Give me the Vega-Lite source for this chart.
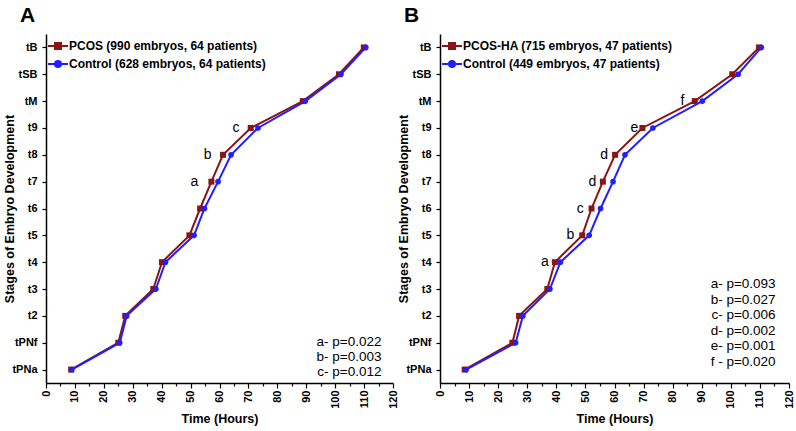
{
  "$schema": "https://vega.github.io/schema/vega-lite/v6.json",
  "padding": {"left": 3, "top": 5, "right": 5, "bottom": 5},
  "config": {
    "font": "Liberation Sans",
    "view": {"stroke": null},
    "axis": {"grid": false, "domainColor": "#000", "domainWidth": 1.5, "tickColor": "#000", "tickWidth": 1.2, "labelColor": "#000", "titleColor": "#000", "labelFontWeight": "bold", "titleFontWeight": "bold", "labelFontSize": 11, "titleFontSize": 12.5},
    "title": {"fontSize": 21, "fontWeight": "bold", "anchor": "start", "frame": "group", "color": "#000", "offset": 8}
  },
  "datasets": {
    "main": [
      {"panel": "A", "group": "PCOS (990 embryos, 64 patients)", "stage": "tPNa", "time": 8.7},
      {"panel": "A", "group": "PCOS (990 embryos, 64 patients)", "stage": "tPNf", "time": 25.0},
      {"panel": "A", "group": "PCOS (990 embryos, 64 patients)", "stage": "t2", "time": 27.4},
      {"panel": "A", "group": "PCOS (990 embryos, 64 patients)", "stage": "t3", "time": 37.1},
      {"panel": "A", "group": "PCOS (990 embryos, 64 patients)", "stage": "t4", "time": 40.1},
      {"panel": "A", "group": "PCOS (990 embryos, 64 patients)", "stage": "t5", "time": 49.6},
      {"panel": "A", "group": "PCOS (990 embryos, 64 patients)", "stage": "t6", "time": 53.3},
      {"panel": "A", "group": "PCOS (990 embryos, 64 patients)", "stage": "t7", "time": 57.2},
      {"panel": "A", "group": "PCOS (990 embryos, 64 patients)", "stage": "t8", "time": 61.2},
      {"panel": "A", "group": "PCOS (990 embryos, 64 patients)", "stage": "t9", "time": 70.8},
      {"panel": "A", "group": "PCOS (990 embryos, 64 patients)", "stage": "tM", "time": 88.8},
      {"panel": "A", "group": "PCOS (990 embryos, 64 patients)", "stage": "tSB", "time": 101.3},
      {"panel": "A", "group": "PCOS (990 embryos, 64 patients)", "stage": "tB", "time": 109.9},
      {"panel": "A", "group": "Control (628 embryos,  64 patients)", "stage": "tPNa", "time": 8.9},
      {"panel": "A", "group": "Control (628 embryos,  64 patients)", "stage": "tPNf", "time": 25.5},
      {"panel": "A", "group": "Control (628 embryos,  64 patients)", "stage": "t2", "time": 27.9},
      {"panel": "A", "group": "Control (628 embryos,  64 patients)", "stage": "t3", "time": 38.0},
      {"panel": "A", "group": "Control (628 embryos,  64 patients)", "stage": "t4", "time": 41.3},
      {"panel": "A", "group": "Control (628 embryos,  64 patients)", "stage": "t5", "time": 51.2},
      {"panel": "A", "group": "Control (628 embryos,  64 patients)", "stage": "t6", "time": 54.8},
      {"panel": "A", "group": "Control (628 embryos,  64 patients)", "stage": "t7", "time": 59.5},
      {"panel": "A", "group": "Control (628 embryos,  64 patients)", "stage": "t8", "time": 64.0},
      {"panel": "A", "group": "Control (628 embryos,  64 patients)", "stage": "t9", "time": 73.3},
      {"panel": "A", "group": "Control (628 embryos,  64 patients)", "stage": "tM", "time": 89.7},
      {"panel": "A", "group": "Control (628 embryos,  64 patients)", "stage": "tSB", "time": 102.0},
      {"panel": "A", "group": "Control (628 embryos,  64 patients)", "stage": "tB", "time": 110.6},
      {"panel": "B", "group": "PCOS-HA (715 embryos, 47 patients)", "stage": "tPNa", "time": 8.5},
      {"panel": "B", "group": "PCOS-HA (715 embryos, 47 patients)", "stage": "tPNf", "time": 24.9},
      {"panel": "B", "group": "PCOS-HA (715 embryos, 47 patients)", "stage": "t2", "time": 27.2},
      {"panel": "B", "group": "PCOS-HA (715 embryos, 47 patients)", "stage": "t3", "time": 36.9},
      {"panel": "B", "group": "PCOS-HA (715 embryos, 47 patients)", "stage": "t4", "time": 39.5},
      {"panel": "B", "group": "PCOS-HA (715 embryos, 47 patients)", "stage": "t5", "time": 48.9},
      {"panel": "B", "group": "PCOS-HA (715 embryos, 47 patients)", "stage": "t6", "time": 52.1},
      {"panel": "B", "group": "PCOS-HA (715 embryos, 47 patients)", "stage": "t7", "time": 56.0},
      {"panel": "B", "group": "PCOS-HA (715 embryos, 47 patients)", "stage": "t8", "time": 60.2},
      {"panel": "B", "group": "PCOS-HA (715 embryos, 47 patients)", "stage": "t9", "time": 69.6},
      {"panel": "B", "group": "PCOS-HA (715 embryos, 47 patients)", "stage": "tM", "time": 87.6},
      {"panel": "B", "group": "PCOS-HA (715 embryos, 47 patients)", "stage": "tSB", "time": 100.5},
      {"panel": "B", "group": "PCOS-HA (715 embryos, 47 patients)", "stage": "tB", "time": 109.7},
      {"panel": "B", "group": "Control (449 embryos, 47 patients)", "stage": "tPNa", "time": 9.0},
      {"panel": "B", "group": "Control (449 embryos, 47 patients)", "stage": "tPNf", "time": 26.0},
      {"panel": "B", "group": "Control (449 embryos, 47 patients)", "stage": "t2", "time": 28.5},
      {"panel": "B", "group": "Control (449 embryos, 47 patients)", "stage": "t3", "time": 37.8},
      {"panel": "B", "group": "Control (449 embryos, 47 patients)", "stage": "t4", "time": 41.4},
      {"panel": "B", "group": "Control (449 embryos, 47 patients)", "stage": "t5", "time": 51.3},
      {"panel": "B", "group": "Control (449 embryos, 47 patients)", "stage": "t6", "time": 55.2},
      {"panel": "B", "group": "Control (449 embryos, 47 patients)", "stage": "t7", "time": 59.5},
      {"panel": "B", "group": "Control (449 embryos, 47 patients)", "stage": "t8", "time": 63.6},
      {"panel": "B", "group": "Control (449 embryos, 47 patients)", "stage": "t9", "time": 73.2},
      {"panel": "B", "group": "Control (449 embryos, 47 patients)", "stage": "tM", "time": 90.2},
      {"panel": "B", "group": "Control (449 embryos, 47 patients)", "stage": "tSB", "time": 102.5},
      {"panel": "B", "group": "Control (449 embryos, 47 patients)", "stage": "tB", "time": 110.5}
    ],
    "letters": [
      {"panel": "A", "stage": "t7", "time": 51.3, "txt": "a"},
      {"panel": "A", "stage": "t8", "time": 55.9, "txt": "b"},
      {"panel": "A", "stage": "t9", "time": 65.7, "txt": "c"},
      {"panel": "B", "stage": "t4", "time": 36.1, "txt": "a"},
      {"panel": "B", "stage": "t5", "time": 44.8, "txt": "b"},
      {"panel": "B", "stage": "t6", "time": 48.2, "txt": "c"},
      {"panel": "B", "stage": "t7", "time": 52.4, "txt": "d"},
      {"panel": "B", "stage": "t8", "time": 56.4, "txt": "d"},
      {"panel": "B", "stage": "t9", "time": 66.8, "txt": "e"},
      {"panel": "B", "stage": "tM", "time": 83.4, "txt": "f"}
    ],
    "pvals": [
      {"panel": "A", "stage": "tPNf", "time": 116, "txt": "a- p=0.022\nb- p=0.003\nc- p=0.012"},
      {"panel": "B", "stage": "t3", "time": 115.4, "txt": "a- p=0.093\nb- p=0.027\nc- p=0.006\nd- p=0.002\ne- p=0.001\nf - p=0.020"}
    ]
  },
  "spacing": -1,
  "resolve": {"scale": {"color": "independent"}, "legend": {"color": "independent"}},
  "hconcat": [
    {
      "title": {"text": "A", "dx": -26},
      "width": 347,
      "height": 349,
      "encoding": {
        "x": {"field": "time", "type": "quantitative", "scale": {"domain": [0, 120], "nice": false},
          "axis": {"title": "Time (Hours)", "values": [0,5,10,15,20,25,30,35,40,45,50,55,60,65,70,75,80,85,90,95,100,105,110,115,120], "labelExpr": "datum.value % 10 === 0 ? datum.label : ''", "tickSize": {"condition": {"test": "datum.value % 10 === 0", "value": 5}, "value": 3}, "labelAngle": -90, "labelFlush": false, "labelOverlap": false, "titlePadding": 4}},
        "y": {"field": "stage", "type": "ordinal", "sort": ["tB","tSB","tM","t9","t8","t7","t6","t5","t4","t3","t2","tPNf","tPNa"],
          "axis": {"title": "Stages of Embryo Development", "tickSize": 4, "labelPadding": 5, "titlePadding": -4.5}}
      },
      "layer": [
        {
          "data": {"name": "main"},
          "transform": [{"filter": "datum.panel === 'A'"}],
          "mark": {"type": "line", "strokeWidth": 2},
          "encoding": {
            "color": {"field": "group", "type": "nominal",
              "scale": {"domain": ["PCOS (990 embryos, 64 patients)", "Control (628 embryos,  64 patients)"], "range": ["#8B1414", "#1F1FFF"]},
              "legend": {"title": null, "orient": "top-left", "offset": 1, "padding": 0, "labelFontSize": 12, "labelFontWeight": "bold", "labelColor": "#000", "labelLimit": 0, "symbolSize": 400, "rowPadding": -4, "labelOffset": 0,
                "encode": {"symbols": {"update": {
                  "shape": {"signal": "indexof(datum.value,'Control') >= 0 ? 'M-1,0H1M-0.3,0A0.3,0.3 0 1,0 0.3,0A0.3,0.3 0 1,0 -0.3,0Z' : 'M-1,0H1M-0.3,-0.3H0.3V0.3H-0.3Z'"},
                  "fill": {"signal": "indexof(datum.value,'Control') >= 0 ? '#1F1FFF' : '#8B1414'"},
                  "stroke": {"signal": "indexof(datum.value,'Control') >= 0 ? '#1F1FFF' : '#8B1414'"},
                  "strokeWidth": {"value": 2}, "opacity": {"value": 1}, "fillOpacity": {"value": 1}}}}}}
          }
        },
        {
          "data": {"name": "main"},
          "transform": [{"filter": "datum.panel === 'A' && indexof(datum.group, 'Control') < 0"}],
          "mark": {"type": "point", "filled": true, "opacity": 1, "shape": "square", "size": 36},
          "encoding": {"color": {"field": "group", "type": "nominal", "legend": null}}
        },
        {
          "data": {"name": "main"},
          "transform": [{"filter": "datum.panel === 'A' && indexof(datum.group, 'Control') >= 0"}],
          "mark": {"type": "point", "filled": true, "opacity": 1, "shape": "circle", "size": 32},
          "encoding": {"color": {"field": "group", "type": "nominal", "legend": null}}
        },
        {
          "data": {"name": "letters"},
          "transform": [{"filter": "datum.panel === 'A'"}],
          "mark": {"type": "text", "fontSize": 14, "color": "#000", "baseline": "middle", "align": "center"},
          "encoding": {"text": {"field": "txt"}}
        },
        {
          "data": {"name": "pvals"},
          "transform": [{"filter": "datum.panel === 'A'"}],
          "mark": {"type": "text", "fontSize": 13.5, "color": "#000", "baseline": "middle", "align": "right", "lineBreak": "\n", "lineHeight": 15, "dy": -1},
          "encoding": {"text": {"field": "txt"}}
        }
      ]
    },
    {
      "title": {"text": "B", "dx": -36},
      "width": 349,
      "height": 349,
      "encoding": {
        "x": {"field": "time", "type": "quantitative", "scale": {"domain": [0, 120], "nice": false},
          "axis": {"title": "Time (Hours)", "values": [0,5,10,15,20,25,30,35,40,45,50,55,60,65,70,75,80,85,90,95,100,105,110,115,120], "labelExpr": "datum.value % 10 === 0 ? datum.label : ''", "tickSize": {"condition": {"test": "datum.value % 10 === 0", "value": 5}, "value": 3}, "labelAngle": -90, "labelFlush": false, "labelOverlap": false, "titlePadding": 4}},
        "y": {"field": "stage", "type": "ordinal", "sort": ["tB","tSB","tM","t9","t8","t7","t6","t5","t4","t3","t2","tPNf","tPNa"],
          "axis": {"title": "Stages of Embryo Development", "tickSize": 4, "labelPadding": 5, "titlePadding": -4.5}}
      },
      "layer": [
        {
          "data": {"name": "main"},
          "transform": [{"filter": "datum.panel === 'B'"}],
          "mark": {"type": "line", "strokeWidth": 2},
          "encoding": {
            "color": {"field": "group", "type": "nominal",
              "scale": {"domain": ["PCOS-HA (715 embryos, 47 patients)", "Control (449 embryos, 47 patients)"], "range": ["#8B1414", "#1F1FFF"]},
              "legend": {"title": null, "orient": "top-left", "offset": 1, "padding": 0, "labelFontSize": 12, "labelFontWeight": "bold", "labelColor": "#000", "labelLimit": 0, "symbolSize": 400, "rowPadding": -4, "labelOffset": 0,
                "encode": {"symbols": {"update": {
                  "shape": {"signal": "indexof(datum.value,'Control') >= 0 ? 'M-1,0H1M-0.3,0A0.3,0.3 0 1,0 0.3,0A0.3,0.3 0 1,0 -0.3,0Z' : 'M-1,0H1M-0.3,-0.3H0.3V0.3H-0.3Z'"},
                  "fill": {"signal": "indexof(datum.value,'Control') >= 0 ? '#1F1FFF' : '#8B1414'"},
                  "stroke": {"signal": "indexof(datum.value,'Control') >= 0 ? '#1F1FFF' : '#8B1414'"},
                  "strokeWidth": {"value": 2}, "opacity": {"value": 1}, "fillOpacity": {"value": 1}}}}}}
          }
        },
        {
          "data": {"name": "main"},
          "transform": [{"filter": "datum.panel === 'B' && indexof(datum.group, 'Control') < 0"}],
          "mark": {"type": "point", "filled": true, "opacity": 1, "shape": "square", "size": 36},
          "encoding": {"color": {"field": "group", "type": "nominal", "legend": null}}
        },
        {
          "data": {"name": "main"},
          "transform": [{"filter": "datum.panel === 'B' && indexof(datum.group, 'Control') >= 0"}],
          "mark": {"type": "point", "filled": true, "opacity": 1, "shape": "circle", "size": 32},
          "encoding": {"color": {"field": "group", "type": "nominal", "legend": null}}
        },
        {
          "data": {"name": "letters"},
          "transform": [{"filter": "datum.panel === 'B'"}],
          "mark": {"type": "text", "fontSize": 14, "color": "#000", "baseline": "middle", "align": "center"},
          "encoding": {"text": {"field": "txt"}}
        },
        {
          "data": {"name": "pvals"},
          "transform": [{"filter": "datum.panel === 'B'"}],
          "mark": {"type": "text", "fontSize": 13.5, "color": "#000", "baseline": "middle", "align": "right", "lineBreak": "\n", "lineHeight": 15.6, "dy": -5},
          "encoding": {"text": {"field": "txt"}}
        }
      ]
    }
  ]
}
